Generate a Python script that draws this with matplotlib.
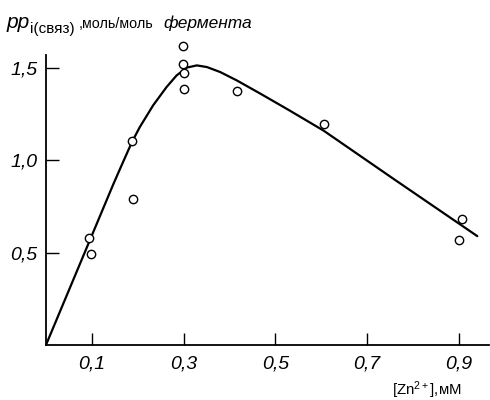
import matplotlib
matplotlib.use("Agg")
import matplotlib.pyplot as plt
from matplotlib import font_manager

# Experimental points
pts_x = [0.095, 0.098, 0.188, 0.191, 0.298, 0.298, 0.301, 0.302, 0.417, 0.606, 0.906, 0.901]
pts_y = [0.581, 0.491, 1.102, 0.788, 1.619, 1.522, 1.471, 1.387, 1.376, 1.195, 0.680, 0.567]

# Fitted curve
curve_x = [0.0, 0.147, 0.162, 0.188, 0.205, 0.234, 0.263, 0.285, 0.307, 0.329, 0.351, 0.38, 0.416, 0.467, 0.53, 0.605, 0.757, 0.94]
curve_y = [0.0, 0.87, 0.955, 1.10, 1.18, 1.297, 1.395, 1.458, 1.50, 1.512, 1.503, 1.476, 1.431, 1.36, 1.27, 1.16, 0.90, 0.59]

xticks = [0.1, 0.3, 0.5, 0.7, 0.9]
xtick_labels = ["0,1", "0,3", "0,5", "0,7", "0,9"]
yticks = [0.5, 1.0, 1.5]
ytick_labels = ["0,5", "1,0", "1,5"]

names = {f.name for f in font_manager.fontManager.ttflist}
FONT = "Liberation Sans Narrow" if "Liberation Sans Narrow" in names else "Liberation Sans"

plt.rcParams["mathtext.fontset"] = "custom"
plt.rcParams["mathtext.rm"] = FONT
plt.rcParams["mathtext.it"] = FONT + ":italic"
plt.rcParams["mathtext.sf"] = FONT
plt.rcParams["font.family"] = [FONT, "DejaVu Sans"]

fig = plt.figure(figsize=(4.9, 4.0), dpi=100)
ax = fig.add_axes([45.8 / 490, 1 - 345.4 / 400, 443 / 490, 290 / 400])

ax.plot(curve_x, curve_y, color="black", lw=1.6, solid_capstyle="round",
        solid_joinstyle="round", zorder=2)
ax.plot(pts_x, pts_y, "o", mfc="white", mec="black", mew=1.0, ms=6, zorder=3, clip_on=False)

ax.set_xlim(0, 0.965)
ax.set_ylim(0, 1.566)
for s in ["top", "right"]:
    ax.spines[s].set_visible(False)
for s in ["left", "bottom"]:
    ax.spines[s].set_linewidth(1.3)

ax.set_xticks(xticks)
ax.set_xticklabels(xtick_labels)
ax.set_yticks(yticks)
ax.set_yticklabels(ytick_labels)
ax.tick_params(direction="in", length=9, width=1.0, labelsize=14)
ax.tick_params(axis="x", pad=7)
ax.tick_params(axis="y", pad=6)
for lab in ax.get_xticklabels() + ax.get_yticklabels():
    lab.set_fontstyle("italic")

# y-axis title, built from pieces
def ft(xpx, ypx, s, size, style="normal"):
    fig.text(xpx / 490, 1 - ypx / 400, s, fontsize=size, fontstyle=style,
             ha="left", va="baseline")

ft(7, 28, "pp", 15, "italic")
ft(30, 33, "i(связ)", 11)
ft(79, 28, ",моль/моль", 10.3)
ft(163, 28, "фермента", 12.5, "italic")

fig.text(392 / 490, 1 - 395 / 400, r"[Zn$^{2+}$],мМ", fontsize=10.8, ha="left", va="baseline")

fig.savefig("out.png", dpi=100)
